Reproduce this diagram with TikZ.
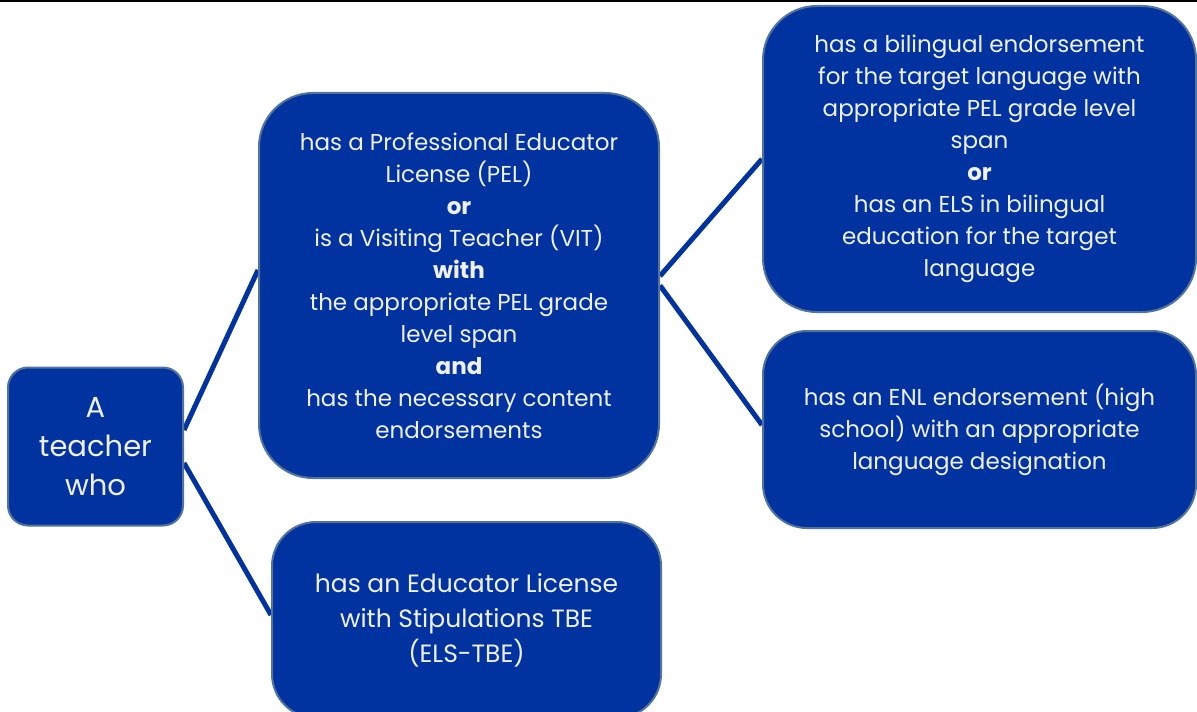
\documentclass[tikz,border=0pt]{standalone}
\usepackage{fontspec}
\setmainfont{Poppins}
\usetikzlibrary{backgrounds}
\definecolor{boxblue}{RGB}{0,51,160}
\definecolor{boxedge}{RGB}{82,116,156}
\definecolor{txtwhite}{RGB}{240,240,250}
\tikzset{
  card/.style={draw=boxedge, line width=1pt, fill=boxblue, text=txtwhite,
    align=center, inner sep=0pt, rectangle},
  conn/.style={draw=boxblue, line width=2.5pt},
  midtext/.style={font=\fontsize{11.5}{16}\selectfont},
}
\begin{document}
\begin{tikzpicture}[x=0.5pt,y=-0.5pt]
\useasboundingbox (0,0) rectangle (1197,711);
\clip (0,0) rectangle (1197,711);
\node[card, rounded corners=10pt, minimum width=87.5pt, minimum height=79pt,
  font=\fontsize{14.5}{19.5}\selectfont] (A) at (95.5,446.5) {A\\teacher\\who};
\node[card, rounded corners=27pt, minimum width=200pt, minimum height=192.5pt, midtext] (B) at (459,285.5)
 {has a Professional Educator\\License (PEL)\\\textbf{or}\\is a Visiting Teacher (VIT)\\\textbf{with}\\the appropriate PEL grade\\level span\\\textbf{and}\\has the necessary content\\endorsements};
\node[card, rounded corners=27pt, minimum width=216.5pt, minimum height=153pt, midtext] (C) at (979.5,159)
 {has a bilingual endorsement\\for the target language with\\appropriate PEL grade level\\span\\\textbf{or}\\has an ELS in bilingual\\education for the target\\language};
\node[card, rounded corners=22pt, minimum width=216.5pt, minimum height=98.5pt, midtext] (D) at (979.5,429.5)
 {has an ENL endorsement (high\\school) with an appropriate\\language designation};
\node[card, rounded corners=22pt, minimum width=194.5pt, minimum height=98pt,
  font=\fontsize{12.5}{17.5}\selectfont] (E) at (466.5,620)
 {has an Educator License\\with Stipulations TBE\\(ELS-TBE)};
\begin{scope}[on background layer]
\fill[white] (0,0) rectangle (1197,711);
\draw[black, line width=1pt] (0,1) -- (1197,1);
\draw[conn] ([yshift=8.25pt]A.east) -- ([yshift=7.75pt]B.west);
\draw[conn] ([yshift=-8.25pt]A.east) -- ([yshift=2.5pt]E.west);
\draw[conn] ([yshift=4.75pt]B.east) -- (C.west);
\draw[conn] (B.east) -- ([yshift=2.25pt]D.west);
\end{scope}
\end{tikzpicture}
\end{document}
